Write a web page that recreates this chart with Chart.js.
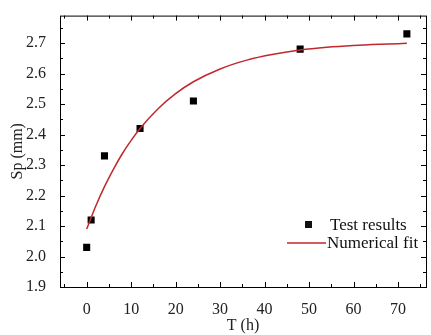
<!DOCTYPE html>
<html>
<head>
<meta charset="utf-8">
<script src="https://cdn.jsdelivr.net/npm/chart.js@4.4.1/dist/chart.umd.min.js"></script>
<style>
  html, body { margin: 0; padding: 0; background: #fff; }
  #wrap { width: 431px; height: 335px; }
</style>
</head>
<body>
<div id="wrap"><canvas id="c" width="431" height="335"></canvas></div>
<script>
// test data
const testT = [0, 1, 4, 12, 24, 48, 72];
const testSp = [2.03, 2.12, 2.33, 2.42, 2.51, 2.68, 2.73];

// fitted curve
const fitT = [0, 2, 4, 6, 8, 10, 12, 16, 20, 24, 30, 36, 42, 48, 54, 60, 66, 72];
const fitSp = [2.09, 2.164, 2.229, 2.286, 2.337, 2.381, 2.42, 2.484, 2.534, 2.573, 2.615, 2.644, 2.663, 2.677, 2.686, 2.692, 2.696, 2.699];

// axis ticks
const xTicks = [0, 10, 20, 30, 40, 50, 60, 70];
const yTicks = [1.9, 2.0, 2.1, 2.2, 2.3, 2.4, 2.5, 2.6, 2.7];

const FONT = '"Liberation Serif", "Times New Roman", serif';

// frame + inward ticks on all four sides, plus the legend box
const framePlugin = {
  id: 'frame',
  afterDraw(chart) {
    const { ctx, chartArea: a, scales } = chart;
    const xs = scales.x, ys = scales.y;
    ctx.save();
    ctx.strokeStyle = '#000';
    ctx.lineWidth = 1;
    ctx.strokeRect(a.left + 0.5, a.top + 0.5, a.right - a.left, a.bottom - a.top);

    ctx.beginPath();
    for (let v = -5; v <= 75; v += 5) {
      const px = Math.round(xs.getPixelForValue(v)) + 0.5;
      const len = v % 10 === 0 ? 5 : 3;
      ctx.moveTo(px, a.bottom); ctx.lineTo(px, a.bottom - len);
      ctx.moveTo(px, a.top); ctx.lineTo(px, a.top + len);
    }
    for (let i = 0; i <= 17; i++) {
      const v = 1.9 + i * 0.05;
      const py = Math.round(ys.getPixelForValue(v)) + 0.5;
      const len = i % 2 === 0 ? 5 : 3;
      ctx.moveTo(a.left, py); ctx.lineTo(a.left + len, py);
      ctx.moveTo(a.right, py); ctx.lineTo(a.right - len, py);
    }
    ctx.stroke();

    // legend
    ctx.font = '17px ' + FONT;
    ctx.fillStyle = '#111';
    ctx.textBaseline = 'middle';
    ctx.fillRect(305, 221, 7, 7);
    ctx.fillText('Test results', 330, 226);
    ctx.strokeStyle = '#c0282d';
    ctx.lineWidth = 1.5;
    ctx.beginPath();
    ctx.moveTo(287, 243); ctx.lineTo(326, 243);
    ctx.stroke();
    ctx.fillText('Numerical fit', 327, 244);
    ctx.restore();
  }
};

new Chart(document.getElementById('c'), {
  type: 'scatter',
  data: {
    datasets: [
      {
        label: 'Numerical fit',
        data: fitT.map((t, i) => ({ x: t, y: fitSp[i] })),
        showLine: true,
        borderColor: '#c0282d',
        borderWidth: 1.5,
        pointRadius: 0,
        cubicInterpolationMode: 'monotone',
        fill: false
      },
      {
        label: 'Test results',
        data: testT.map((t, i) => ({ x: t, y: testSp[i] })),
        pointStyle: 'rect',
        pointRadius: 5,
        backgroundColor: '#000',
        borderColor: '#000',
        borderWidth: 0
      }
    ]
  },
  options: {
    responsive: false,
    animation: false,
    layout: { padding: { top: 11, right: 5, left: 0, bottom: 0 } },
    plugins: { legend: { display: false }, tooltip: { enabled: false } },
    scales: {
      x: {
        type: 'linear',
        min: -6,
        max: 76.3,
        grid: { display: false },
        border: { display: false },
        afterBuildTicks: (s) => { s.ticks = xTicks.map(v => ({ value: v })); },
        afterFit: (s) => { s.height = 48; },
        ticks: { color: '#222', font: { family: FONT, size: 16 }, padding: 5, maxRotation: 0 },
        title: { display: true, text: 'T (h)', color: '#222', font: { family: FONT, size: 16 }, padding: { top: 0, bottom: 0 } }
      },
      y: {
        type: 'linear',
        min: 1.9,
        max: 2.79,
        grid: { display: false },
        border: { display: false },
        afterBuildTicks: (s) => { s.ticks = yTicks.map(v => ({ value: v })); },
        afterFit: (s) => { s.width = 60; },
        ticks: { color: '#222', font: { family: FONT, size: 16 }, padding: 6, callback: (v) => v.toFixed(1) },
        title: { display: true, text: 'Sp (mm)', color: '#222', font: { family: FONT, size: 16 }, padding: { top: 8, bottom: 0 } }
      }
    }
  },
  plugins: [framePlugin]
});
</script>
</body>
</html>
